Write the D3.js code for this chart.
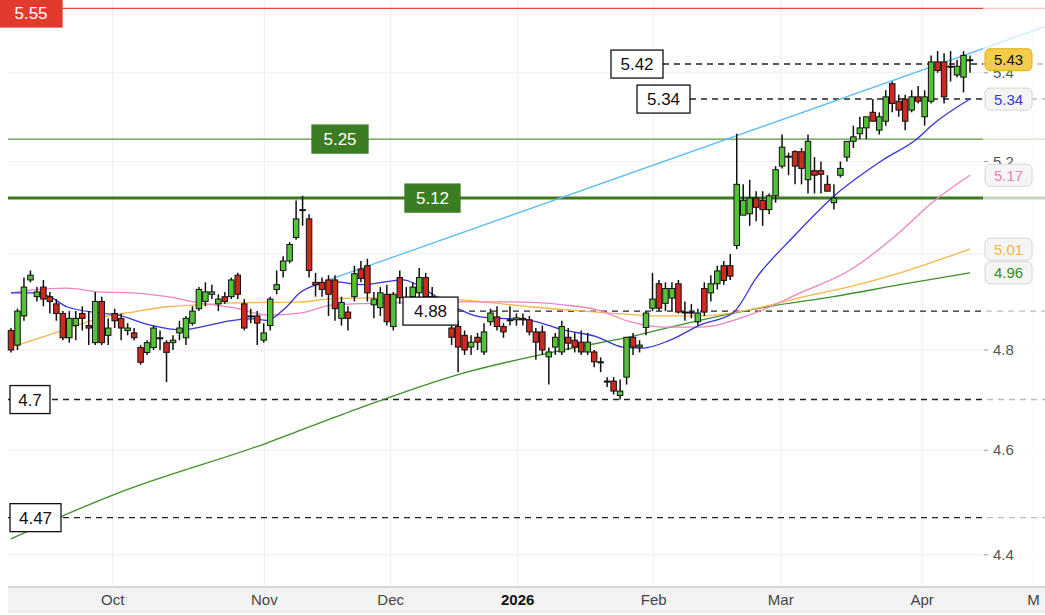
<!DOCTYPE html>
<html><head><meta charset="utf-8">
<script src="https://cdn.jsdelivr.net/npm/d3@7"></script>
<style>body{margin:0;background:#fff}svg{display:block;font-family:"Liberation Sans",Arial,sans-serif}</style>
</head><body><svg id="c" width="1045" height="615"></svg>
<script>
// ---- data ----
const opens  = [4.84,4.81,4.87,4.945,4.91,4.93,4.91,4.895,4.875,4.825,4.85,4.875,4.85,4.815,4.90,4.83,4.875,4.865,4.84,4.835,4.805,4.795,4.805,4.825,4.815,4.815,4.835,4.825,4.855,4.885,4.90,4.915,4.895,4.91,4.91,4.955,4.895,4.87,4.87,4.82,4.85,4.925,4.965,4.985,5.035,5.095,5.075,
4.94,4.94,4.945,4.945,4.865,4.878,4.91,4.968,4.975,4.893,4.887,4.915,4.848,4.95,4.90,4.91,4.918,4.95,4.91,4.895,4.88,4.845,4.848,4.83,4.806,4.826,4.796,4.858,4.868,4.848,4.862,4.862,4.865,4.862,4.837,4.837,4.786,4.806,4.796,4.826,4.82,4.816,4.796,4.796,4.776,4.737,4.737,4.708,4.745,4.826,4.806,4.846,4.886,4.937,4.896,4.907,4.937,4.876,4.878,4.858,4.927,4.918,4.937,4.975,4.975,5.018,5.083,5.086,5.12,5.115,5.095,5.125,5.19,5.212,5.222,5.222,5.16,5.18,5.18,5.15,5.11,5.17,5.21,5.245,5.262,5.275,5.31,5.27,5.29,5.375,5.335,5.34,5.315,5.345,5.30,5.335,5.425,5.425,5.415,5.395,5.39,5.43];
const highs  = [4.845,4.885,4.95,4.965,4.93,4.945,4.92,4.905,4.88,4.88,4.88,4.89,4.88,4.92,4.91,4.865,4.885,4.875,4.855,4.845,4.81,4.82,4.85,4.84,4.82,4.83,4.86,4.87,4.89,4.93,4.94,4.935,4.915,4.92,4.95,4.96,4.905,4.885,4.88,4.855,4.91,4.965,4.995,5.025,5.115,5.125,5.085,
4.96,4.95,4.955,4.955,4.91,4.89,4.975,4.985,4.99,4.92,4.93,4.935,4.92,4.965,4.93,4.94,4.97,4.96,4.93,4.91,4.90,4.86,4.86,4.84,4.83,4.835,4.855,4.885,4.89,4.855,4.89,4.875,4.875,4.87,4.845,4.85,4.805,4.835,4.86,4.845,4.835,4.84,4.835,4.80,4.785,4.745,4.745,4.74,4.826,4.835,4.82,4.88,4.96,4.945,4.94,4.94,4.945,4.90,4.895,4.885,4.94,4.955,4.975,4.985,5.00,5.262,5.15,5.16,5.135,5.135,5.13,5.19,5.26,5.22,5.225,5.23,5.26,5.21,5.20,5.17,5.15,5.20,5.235,5.28,5.30,5.29,5.34,5.31,5.36,5.38,5.35,5.35,5.36,5.37,5.36,5.44,5.45,5.445,5.45,5.43,5.45,5.44];
const lows   = [4.795,4.80,4.86,4.94,4.90,4.89,4.875,4.86,4.82,4.815,4.82,4.84,4.81,4.81,4.81,4.81,4.845,4.82,4.83,4.82,4.77,4.79,4.80,4.80,4.735,4.80,4.82,4.81,4.85,4.88,4.89,4.905,4.88,4.895,4.905,4.905,4.84,4.855,4.81,4.815,4.84,4.915,4.95,4.98,5.03,5.06,4.95,
4.91,4.91,4.87,4.86,4.85,4.84,4.90,4.94,4.90,4.865,4.87,4.85,4.84,4.895,4.88,4.89,4.90,4.89,4.88,4.87,4.86,4.81,4.755,4.79,4.79,4.80,4.79,4.85,4.84,4.825,4.85,4.85,4.85,4.83,4.78,4.79,4.73,4.79,4.79,4.80,4.795,4.79,4.79,4.765,4.755,4.725,4.71,4.70,4.73,4.79,4.795,4.83,4.88,4.88,4.88,4.88,4.875,4.86,4.865,4.85,4.87,4.90,4.925,4.935,4.945,5.01,5.085,5.06,5.07,5.06,5.085,5.11,5.185,5.17,5.15,5.15,5.13,5.13,5.13,5.135,5.095,5.165,5.20,5.23,5.25,5.25,5.29,5.26,5.28,5.31,5.30,5.27,5.31,5.33,5.28,5.33,5.40,5.33,5.38,5.39,5.355,5.40];
const closes = [4.80,4.88,4.93,4.955,4.92,4.905,4.90,4.875,4.825,4.865,4.865,4.865,4.845,4.90,4.815,4.845,4.86,4.845,4.845,4.825,4.775,4.815,4.845,4.825,4.795,4.82,4.845,4.865,4.88,4.925,4.92,4.92,4.905,4.90,4.945,4.915,4.845,4.87,4.855,4.835,4.905,4.935,4.985,5.02,5.075,5.095,4.965,
4.935,4.925,4.915,4.885,4.898,4.865,4.958,4.948,4.918,4.905,4.918,4.858,4.915,4.908,4.89,4.93,4.95,4.91,4.895,4.88,4.87,4.826,4.806,4.80,4.816,4.816,4.837,4.876,4.848,4.837,4.862,4.866,4.862,4.837,4.816,4.80,4.796,4.826,4.848,4.814,4.806,4.796,4.816,4.776,4.776,4.735,4.717,4.717,4.826,4.806,4.81,4.876,4.905,4.886,4.927,4.927,4.878,4.878,4.876,4.876,4.878,4.937,4.964,4.944,4.953,5.15,5.115,5.12,5.10,5.095,5.125,5.182,5.232,5.212,5.19,5.185,5.245,5.17,5.172,5.135,5.12,5.185,5.245,5.255,5.275,5.30,5.29,5.30,5.345,5.33,5.315,5.29,5.345,5.335,5.345,5.425,5.405,5.345,5.415,5.415,5.44,5.43];
// moving averages: [candle index, price]
const maBlue   = [[0,4.918],[3.4,4.918],[6,4.910],[8.6,4.889],[13.7,4.876],[16.4,4.872],[21.5,4.851],[26.5,4.841],[29.2,4.847],[34.3,4.861],[37.3,4.864],[39.5,4.861],[42.3,4.886],[44.6,4.918],[47.2,4.935],[50,4.941],[54.3,4.935],[57.7,4.941],[60.5,4.945],[64.7,4.918],[67.3,4.897],[72.4,4.868],[80.1,4.861],[85.2,4.841],[90.4,4.827],[94.4,4.806],[97.5,4.804],[101.7,4.820],[106.3,4.851],[111.4,4.876],[115.1,4.951],[120.7,5.036],[126.9,5.123],[134.6,5.204],[139.8,5.250],[142.3,5.283],[148,5.34]];
const maPink   = [[0,4.918],[3.4,4.924],[8.6,4.928],[13.7,4.920],[18.8,4.918],[24.1,4.910],[29.2,4.897],[34.3,4.887],[39.5,4.872],[44.6,4.876],[49.7,4.893],[59.6,4.897],[69.8,4.899],[77.5,4.899],[85.2,4.893],[90.4,4.883],[95.5,4.858],[100.6,4.847],[106.3,4.847],[114,4.872],[121.8,4.918],[129.5,4.966],[137.2,5.047],[142.3,5.112],[148,5.17]];
const maOrange = [[0,4.806],[3.4,4.820],[8.6,4.843],[13.7,4.866],[18.8,4.878],[24.1,4.889],[29.2,4.893],[34.3,4.897],[44.6,4.899],[49.7,4.906],[59.6,4.908],[69.8,4.903],[80.1,4.889],[90.4,4.878],[100.6,4.870],[106.3,4.870],[114,4.883],[121.8,4.908],[129.5,4.931],[137.2,4.960],[142.3,4.983],[148,5.01]];
const maGreen  = [[0,4.43],[7.9,4.473],[15.7,4.513],[39.5,4.614],[52.3,4.676],[69.8,4.753],[85.2,4.80],[95.5,4.827],[106.3,4.861],[116.7,4.889],[126.9,4.910],[137.2,4.935],[148,4.96]];
const trendLine = [[49,4.945],[159.6,5.507]];
const monthLabels = ["Oct","Nov","Dec","2026","Feb","Mar","Apr","M"];
const monthIdx    = [15.7,39.1,58.6,78.2,99.2,118.8,140.6,157.8];
const yTicks = [4.4,4.6,4.8,5.2,5.4];
const lastLabels = [{v:5.43,t:"5.43",c:"#111",f:"#f3cd4a",s:"#d9ad1c"},{v:5.34,t:"5.34",c:"#3a3ad6"},{v:5.17,t:"5.17",c:"#ef7fb8"},{v:5.01,t:"5.01",c:"#f5b443"},{v:4.96,t:"4.96",c:"#3a8a22"}];

// ---- drawing ----
const svg = d3.select("#c");
const x = d3.scaleLinear().domain([0,148]).range([11,970]);
const y = d3.scaleLog().domain([4.8,5.2]).range([350,161.6]);
const plotR = 983;

const g = svg.append("g");
// grid
yTicks.concat([5.0]).forEach(v=>g.append("line").attr("x1",8).attr("x2",1045).attr("y1",y(v)).attr("y2",y(v)).attr("stroke","#eee"));
monthIdx.forEach(i=>g.append("line").attr("x1",x(i)).attr("x2",x(i)).attr("y1",0).attr("y2",587).attr("stroke","#eee"));

// horizontal levels
g.append("line").attr("x1",0).attr("x2",1045).attr("y1",y(5.55)).attr("y2",y(5.55)).attr("stroke","#e8473b").attr("stroke-width",1.2);
g.append("line").attr("x1",8).attr("x2",1045).attr("y1",y(5.25)).attr("y2",y(5.25)).attr("stroke","#5b9440").attr("stroke-width",1.4);
g.append("line").attr("x1",8).attr("x2",1045).attr("y1",y(5.12)).attr("y2",y(5.12)).attr("stroke","#3b7a1f").attr("stroke-width",3);
[[5.42,663],[5.34,690],[4.88,458],[4.7,8],[4.47,8]].forEach(([v,x0])=>
  g.append("line").attr("x1",x0).attr("x2",1045).attr("y1",y(v)).attr("y2",y(v)).attr("stroke","#222").attr("stroke-width",1.4).attr("stroke-dasharray","6,5"));

// MA lines
const ln = d3.line().x(d=>x(d[0])).y(d=>y(d[1])).curve(d3.curveMonotoneX);
g.append("path").attr("d",ln(maGreen)).attr("fill","none").attr("stroke","#3f8f2a").attr("stroke-width",1.3);
g.append("path").attr("d",ln(maOrange)).attr("fill","none").attr("stroke","#f7b64a").attr("stroke-width",1.3);
g.append("path").attr("d",ln(maPink)).attr("fill","none").attr("stroke","#ee84c0").attr("stroke-width",1.3);
g.append("path").attr("d",ln(maBlue)).attr("fill","none").attr("stroke","#3434d8").attr("stroke-width",1.3);
g.append("path").attr("d",d3.line().x(d=>x(d[0])).y(d=>y(d[1]))(trendLine)).attr("fill","none").attr("stroke","#5cbdf5").attr("stroke-width",1.3);

// candles
const cg = g.append("g");
closes.forEach((c,i)=>{
  const o=opens[i],h=highs[i],l=lows[i],cx=x(i);
  cg.append("line").attr("x1",cx).attr("x2",cx).attr("y1",y(h)).attr("y2",y(l)).attr("stroke","#111").attr("stroke-width",1.5);
  const t=y(Math.max(o,c)),b=y(Math.min(o,c));
  cg.append("rect").attr("x",cx-2.75).attr("y",t).attr("width",5.5).attr("height",Math.max(1,b-t))
    .attr("fill",c>=o?"#54c236":"#cc2a1e").attr("stroke","#111").attr("stroke-width",1);
});

// fade right margin
g.append("rect").attr("x",plotR).attr("y",0).attr("width",62).attr("height",587).attr("fill","#fff").attr("opacity",0.7);

// right y ticks
yTicks.forEach(v=>{
  g.append("text").attr("x",993).attr("y",y(v)+5).attr("font-size",15).attr("fill","#555").text(v.toFixed(1));
  g.append("line").attr("x1",984).attr("x2",988).attr("y1",y(v)).attr("y2",y(v)).attr("stroke","#999");
});
// last value labels
lastLabels.forEach(d=>{
  const yy=y(d.v);
  g.append("rect").attr("x",985).attr("y",yy-11).attr("width",47).attr("height",22).attr("rx",5)
   .attr("fill",d.f||"#f5f5f5").attr("stroke",d.s||"#d6d6d6");
  g.append("text").attr("x",1008.5).attr("y",yy+5.5).attr("text-anchor","middle").attr("font-size",15).attr("fill",d.c).text(d.t);
});

// left/inline value boxes
function box(x0,w,v,txt,fill,tc,stroke){
  const yy=Math.max(y(v),13);
  g.append("rect").attr("x",x0).attr("y",yy-14).attr("width",w).attr("height",28).attr("fill",fill).attr("stroke",stroke).attr("stroke-width",1.3);
  g.append("text").attr("x",x0+w/2).attr("y",yy+6).attr("text-anchor","middle").attr("font-size",17).attr("fill",tc).text(txt);
}
box(0,62,5.55,"5.55","#e23b2e","#fff","#e23b2e");
box(312,56,5.25,"5.25","#3b7d23","#fff","#3b7d23");
box(405,55,5.12,"5.12","#3b7d23","#fff","#3b7d23");
box(611,52,5.42,"5.42","#fff","#111","#111");
box(637,53,5.34,"5.34","#fff","#111","#111");
box(403,55,4.88,"4.88","#fff","#111","#111");
box(10,40,4.7,"4.7","#fff","#111","#111");
box(10,51,4.47,"4.47","#fff","#111","#111");

// x axis band
g.append("rect").attr("x",8).attr("y",587).attr("width",1037).attr("height",25).attr("fill","#f3f3f3");
g.append("line").attr("x1",8).attr("x2",1045).attr("y1",587).attr("y2",587).attr("stroke","#d8d8d8").attr("stroke-width",2);
g.append("line").attr("x1",8).attr("x2",1045).attr("y1",612).attr("y2",612).attr("stroke","#ddd");
monthLabels.forEach((m,i)=>g.append("text").attr("x",x(monthIdx[i])).attr("y",605).attr("text-anchor","middle")
  .attr("font-size",15).attr("font-weight",m==="2026"?"bold":"normal").attr("fill",m==="2026"?"#111":"#444").text(m));
</script></body></html>
